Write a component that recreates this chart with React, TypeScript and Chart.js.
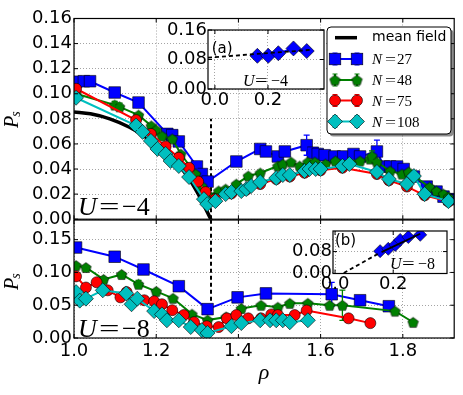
import React, { useEffect, useRef } from 'react';
import { Chart, registerables } from 'chart.js';
Chart.register(...registerables);

// ---------------- data ----------------
const xTicks = [1.0, 1.2, 1.4, 1.6, 1.8];
const topYTicks = [0, 0.02, 0.04, 0.06, 0.08, 0.1, 0.12, 0.14, 0.16];
const botYTicks = [0, 0.05, 0.1, 0.15];
const insetAXTicks = [0, 0.2];
const insetAYTicks = [0, 0.08, 0.16];
const insetBXTicks = [0, 0.2];
const insetBYTicks = [0, 0.08];

const rhoCritical = [4 / 3, 4 / 3];
const topCritPs = [0, 0.08];
const botCritPs = [0.057, 0.18];

const mfRho = [1.0, 1.04, 1.087, 1.135, 1.175, 1.207, 1.239, 1.272, 1.3, 1.333];
const mfPs = [0.0855, 0.084, 0.08, 0.0733, 0.0653, 0.0573, 0.048, 0.036, 0.0213, 0.0];

const topN27Rho = [1.005, 1.024, 1.039, 1.099, 1.157, 1.227, 1.239, 1.255, 1.299, 1.311, 1.325, 1.395, 1.453, 1.467, 1.496, 1.513, 1.566, 1.581, 1.593, 1.61, 1.634, 1.655, 1.68, 1.696, 1.737, 1.754, 1.769, 1.786, 1.802, 1.827, 1.858, 1.882, 1.899, 1.913];
const topN27Ps = [0.1096, 0.11, 0.11, 0.101, 0.093, 0.068, 0.067, 0.062, 0.042, 0.036, 0.03, 0.046, 0.056, 0.054, 0.05, 0.054, 0.059, 0.053, 0.052, 0.051, 0.05, 0.05, 0.052, 0.05, 0.054, 0.042, 0.042, 0.042, 0.04, 0.034, 0.026, 0.022, 0.018, 0.016];
const topN27ErrRho = [1.157, 1.299, 1.566, 1.737];
const topN27Err = [0.004, 0.004, 0.008, 0.009];

const topN48Rho = [1.005, 1.099, 1.111, 1.157, 1.188, 1.2, 1.214, 1.239, 1.26, 1.296, 1.311, 1.328, 1.352, 1.369, 1.395, 1.424, 1.453, 1.496, 1.508, 1.528, 1.549, 1.569, 1.586, 1.612, 1.636, 1.696, 1.72, 1.725, 1.737, 1.769, 1.798, 1.814, 1.865, 1.882, 1.899, 1.911];
const topN48Ps = [0.1, 0.091, 0.0896, 0.083, 0.0744, 0.0712, 0.0664, 0.064, 0.052, 0.036, 0.0264, 0.019, 0.0225, 0.024, 0.028, 0.0344, 0.0368, 0.0424, 0.044, 0.0456, 0.0424, 0.0456, 0.0456, 0.044, 0.0464, 0.0464, 0.048, 0.0504, 0.0456, 0.0384, 0.036, 0.0376, 0.0256, 0.0224, 0.02, 0.0176];
const topN48ErrRho = [1.099, 1.111, 1.725];
const topN48Err = [0.003, 0.003, 0.004];

const topN75Rho = [1.005, 1.151, 1.187, 1.223, 1.255, 1.28, 1.302, 1.32, 1.344, 1.383, 1.419, 1.453, 1.492, 1.525, 1.561, 1.6, 1.653, 1.737, 1.766, 1.81, 1.853, 1.911];
const topN75Ps = [0.104, 0.079, 0.068, 0.058, 0.049, 0.041, 0.03, 0.0216, 0.016, 0.0205, 0.0235, 0.028, 0.032, 0.034, 0.037, 0.039, 0.041, 0.036, 0.031, 0.026, 0.019, 0.014];

const topN108Rho = [1.005, 1.151, 1.167, 1.187, 1.203, 1.223, 1.235, 1.255, 1.28, 1.316, 1.324, 1.344, 1.369, 1.383, 1.407, 1.419, 1.431, 1.453, 1.492, 1.508, 1.525, 1.561, 1.573, 1.588, 1.6, 1.653, 1.67, 1.737, 1.766, 1.81, 1.827, 1.853, 1.911];
const topN108Ps = [0.0968, 0.0746, 0.0696, 0.0624, 0.056, 0.052, 0.0464, 0.0424, 0.0336, 0.016, 0.012, 0.0144, 0.02, 0.0216, 0.0224, 0.024, 0.0264, 0.0296, 0.0328, 0.0352, 0.0352, 0.0384, 0.04, 0.04, 0.04, 0.0424, 0.044, 0.0376, 0.032, 0.028, 0.0344, 0.02, 0.0144];
const topN108ErrRho = [1.151];
const topN108Err = [0.003];

const botN27Rho = [1.005, 1.099, 1.169, 1.255, 1.325, 1.398, 1.467, 1.627, 1.696, 1.766];
const botN27Ps = [0.138, 0.124, 0.1045, 0.079, 0.044, 0.062, 0.068, 0.0667, 0.0576, 0.0485];
const botN27ErrRho = [1.627];
const botN27Err = [0.018];

const botN48Rho = [1.005, 1.029, 1.072, 1.116, 1.157, 1.2, 1.241, 1.287, 1.325, 1.37, 1.407, 1.455, 1.496, 1.525, 1.569, 1.622, 1.653, 1.781, 1.825];
const botN48Ps = [0.1106, 0.1076, 0.0894, 0.097, 0.082, 0.0712, 0.0606, 0.0364, 0.0273, 0.032, 0.045, 0.05, 0.047, 0.053, 0.053, 0.05, 0.05, 0.041, 0.024];
const botN48ErrRho = [1.157, 1.653];
const botN48Err = [0.006, 0.023];

const botN75Rho = [1.005, 1.029, 1.055, 1.082, 1.113, 1.128, 1.171, 1.195, 1.214, 1.239, 1.267, 1.292, 1.323, 1.352, 1.372, 1.395, 1.424, 1.455, 1.48, 1.496, 1.537, 1.566, 1.668, 1.721];
const botN75Ps = [0.094, 0.077, 0.085, 0.0727, 0.062, 0.07, 0.0576, 0.056, 0.0515, 0.0424, 0.035, 0.0242, 0.018, 0.0167, 0.03, 0.035, 0.03, 0.03, 0.036, 0.035, 0.035, 0.042, 0.03, 0.0227];

const botN108Rho = [1.005, 1.014, 1.029, 1.07, 1.127, 1.14, 1.154, 1.195, 1.214, 1.226, 1.255, 1.284, 1.311, 1.325, 1.383, 1.407, 1.453, 1.477, 1.492, 1.508, 1.525, 1.569];
const botN108Ps = [0.07, 0.057, 0.06, 0.0727, 0.068, 0.0515, 0.06, 0.041, 0.036, 0.027, 0.027, 0.0167, 0.012, 0.0076, 0.018, 0.0227, 0.027, 0.027, 0.027, 0.027, 0.024, 0.027];

// inset (a): U = -4
const insetADashX = [-0.026, 0.36];
const insetADashY = [0.085, 0.106];
const insetADiaX = [0.16, 0.201, 0.239, 0.296, 0.346];
const insetADiaY = [0.09, 0.09, 0.097, 0.11, 0.103];

// inset (b): U = -8
const insetBDashX = [0.03, 0.155];
const insetBDashY = [0.002, 0.076];
const insetBFitX = [0.16, 0.293];
const insetBFitY = [0.078, 0.145];
const insetBDiaX = [0.155, 0.183, 0.207, 0.224, 0.252, 0.293];
const insetBDiaY = [0.0815, 0.09, 0.104, 0.1225, 0.133, 0.141];

const legendLabels = ['mean field', '27', '48', '75', '108'];

// ---------------- styling ----------------
const BLUE = '#0000ff';
const GREEN = '#008000';
const RED = '#ff0000';
const CYAN = '#00bfbf';
const SANS = "'DejaVu Sans', sans-serif";
const SERIF = "'Liberation Serif', serif";
const tickFont = { family: SANS, size: 18 };

function pts(xs: number[], ys: number[]) {
  return xs.map((x, i) => ({ x, y: ys[i] }));
}

function makePentagon(r: number, fill: string) {
  const size = Math.ceil(2 * r + 2);
  const c = document.createElement('canvas');
  c.width = size;
  c.height = size;
  const ctx = c.getContext('2d')!;
  ctx.beginPath();
  for (let i = 0; i < 5; i++) {
    const a = -Math.PI / 2 + (i * 2 * Math.PI) / 5;
    const px = size / 2 + r * Math.cos(a);
    const py = size / 2 + 0.6 + r * Math.sin(a);
    if (i === 0) ctx.moveTo(px, py);
    else ctx.lineTo(px, py);
  }
  ctx.closePath();
  ctx.fillStyle = fill;
  ctx.fill();
  ctx.strokeStyle = '#000';
  ctx.lineWidth = 0.6;
  ctx.stroke();
  return c;
}

function series(rho: number[], ps: number[], color: string, style: any, radius: number, order: number, errRho: number[] = [], errVal: number[] = []) {
  const errs = errRho.map((r, k) => {
    const i = rho.indexOf(r);
    return { x: r, y: ps[i], e: errVal[k] };
  });
  return {
    data: pts(rho, ps),
    borderColor: color,
    backgroundColor: color,
    borderWidth: 2,
    pointStyle: style,
    pointRadius: radius,
    pointBackgroundColor: color,
    pointBorderColor: '#000',
    pointBorderWidth: 0.6,
    tension: 0,
    order,
    errs,
  };
}

function lineSet(xs: number[], ys: number[], color: string, width: number, dash: number[], order: number, extra: any = {}) {
  return {
    data: pts(xs, ys),
    borderColor: color,
    backgroundColor: color,
    borderWidth: width,
    borderDash: dash,
    pointRadius: 0,
    tension: 0,
    order,
    ...extra,
  };
}

function scale(min: number, max: number, ticks: number[], showLabels: boolean, decimals: number, padding: number, fit: (s: any) => void) {
  return {
    type: 'linear',
    min,
    max,
    afterBuildTicks: (s: any) => {
      s.ticks = ticks.map((v) => ({ value: v }));
    },
    grid: { color: 'rgba(0,0,0,0.45)', lineWidth: 0.8, drawTicks: false },
    border: { display: false, dash: [1, 2] },
    ticks: {
      display: showLabels,
      autoSkip: false,
      maxRotation: 0,
      font: tickFont,
      color: '#000',
      padding,
      callback: (v: any) => Number(v).toFixed(decimals),
    },
    afterFit: fit,
  };
}

const framePlugin = {
  id: 'frame',
  afterDatasetsDraw(chart: any) {
    const { ctx, chartArea: a, scales } = chart;
    ctx.save();
    ctx.strokeStyle = '#000';
    ctx.lineWidth = 1;
    const L = 4;
    ctx.beginPath();
    scales.x.ticks.forEach((t: any) => {
      const px = scales.x.getPixelForValue(t.value);
      ctx.moveTo(px, a.top);
      ctx.lineTo(px, a.top + L);
      ctx.moveTo(px, a.bottom);
      ctx.lineTo(px, a.bottom - L);
    });
    scales.y.ticks.forEach((t: any) => {
      const py = scales.y.getPixelForValue(t.value);
      ctx.moveTo(a.left, py);
      ctx.lineTo(a.left + L, py);
      ctx.moveTo(a.right, py);
      ctx.lineTo(a.right - L, py);
    });
    ctx.stroke();
    ctx.lineWidth = 1.2;
    ctx.strokeRect(a.left, a.top, a.right - a.left, a.bottom - a.top);
    ctx.restore();
  },
};

const errorPlugin = {
  id: 'errbars',
  afterDatasetDraw(chart: any, args: any) {
    const ds = chart.data.datasets[args.index];
    if (!ds.errs || !ds.errs.length) return;
    const { ctx, scales } = chart;
    ctx.save();
    ctx.strokeStyle = ds.borderColor;
    ctx.lineWidth = 1.3;
    ctx.beginPath();
    ds.errs.forEach((e: any) => {
      const px = scales.x.getPixelForValue(e.x);
      const y1 = scales.y.getPixelForValue(e.y - e.e);
      const y2 = scales.y.getPixelForValue(e.y + e.e);
      ctx.moveTo(px, y1);
      ctx.lineTo(px, y2);
      ctx.moveTo(px - 3, y1);
      ctx.lineTo(px + 3, y1);
      ctx.moveTo(px - 3, y2);
      ctx.lineTo(px + 3, y2);
    });
    ctx.stroke();
    ctx.restore();
  },
};

const whiteBgPlugin = {
  id: 'whitebg',
  beforeDraw(chart: any) {
    const { ctx, chartArea: a } = chart;
    ctx.save();
    ctx.fillStyle = '#fff';
    ctx.fillRect(a.left, a.top, a.right - a.left, a.bottom - a.top);
    ctx.restore();
  },
};

function drawUeq(ctx: CanvasRenderingContext2D, x: number, base: number, size: number, num: string, eqDx: number, numDx: number) {
  ctx.save();
  ctx.fillStyle = '#000';
  ctx.textBaseline = 'alphabetic';
  ctx.textAlign = 'left';
  ctx.font = `italic ${size}px ${SERIF}`;
  ctx.fillText('U', x, base);
  ctx.font = `${size}px ${SERIF}`;
  ctx.save();
  ctx.translate(x + eqDx, base);
  ctx.scale(1.4, 1);
  ctx.fillText('=', 0, 0);
  ctx.restore();
  ctx.fillText('\u2212' + num, x + numDx, base);
  ctx.restore();
}

function drawPs(ctx: CanvasRenderingContext2D, x: number, y: number) {
  ctx.save();
  ctx.translate(x, y);
  ctx.rotate(-Math.PI / 2);
  ctx.fillStyle = '#000';
  ctx.textBaseline = 'alphabetic';
  ctx.textAlign = 'left';
  ctx.font = `italic 20px ${SERIF}`;
  ctx.fillText('P', 0, 0);
  const w = ctx.measureText('P').width;
  ctx.font = `italic 14px ${SERIF}`;
  ctx.fillText('s', w - 1, 2);
  ctx.restore();
}

function roundRect(ctx: CanvasRenderingContext2D, x: number, y: number, w: number, h: number, r: number) {
  ctx.beginPath();
  ctx.moveTo(x + r, y);
  ctx.lineTo(x + w - r, y);
  ctx.arcTo(x + w, y, x + w, y + r, r);
  ctx.lineTo(x + w, y + h - r);
  ctx.arcTo(x + w, y + h, x + w - r, y + h, r);
  ctx.lineTo(x + r, y + h);
  ctx.arcTo(x, y + h, x, y + h - r, r);
  ctx.lineTo(x, y + r);
  ctx.arcTo(x, y, x + r, y, r);
  ctx.closePath();
}

function drawLegend(ctx: CanvasRenderingContext2D, pent: HTMLCanvasElement) {
  const x = 327, y = 27, w = 124, h = 107;
  ctx.save();
  roundRect(ctx, x + 2.5, y + 2.5, w, h, 4);
  ctx.fillStyle = 'rgba(0,0,0,0.45)';
  ctx.fill();
  roundRect(ctx, x, y, w, h, 4);
  ctx.fillStyle = '#fff';
  ctx.fill();
  ctx.strokeStyle = '#000';
  ctx.lineWidth = 1;
  ctx.stroke();

  const ys = [37.7, 59, 80, 100.5, 121.5];
  const x1 = 335, x2 = 357, tx = 372;
  ctx.strokeStyle = '#000';
  ctx.lineWidth = 3.5;
  ctx.beginPath();
  ctx.moveTo(x1, ys[0]);
  ctx.lineTo(x2, ys[0]);
  ctx.stroke();
  ctx.fillStyle = '#000';
  ctx.font = `14px ${SANS}`;
  ctx.textBaseline = 'middle';
  ctx.fillText(legendLabels[0], tx, ys[0]);

  const colors = [BLUE, GREEN, RED, CYAN];
  for (let k = 0; k < 4; k++) {
    const yy = ys[k + 1];
    const c = colors[k];
    ctx.strokeStyle = c;
    ctx.lineWidth = 2;
    ctx.beginPath();
    ctx.moveTo(x1, yy);
    ctx.lineTo(x2, yy);
    [x1, x2].forEach((mx) => {
      ctx.moveTo(mx, yy - 6);
      ctx.lineTo(mx, yy + 6);
    });
    ctx.stroke();
    ctx.lineWidth = 1;
    ctx.beginPath();
    [x1, x2].forEach((mx) => {
      ctx.moveTo(mx - 2.5, yy - 6);
      ctx.lineTo(mx + 2.5, yy - 6);
      ctx.moveTo(mx - 2.5, yy + 6);
      ctx.lineTo(mx + 2.5, yy + 6);
    });
    ctx.stroke();
    [x1, x2].forEach((mx) => {
      ctx.fillStyle = c;
      ctx.strokeStyle = '#000';
      ctx.lineWidth = 0.6;
      if (k === 0) {
        ctx.fillRect(mx - 5.8, yy - 5.8, 11.6, 11.6);
        ctx.strokeRect(mx - 5.8, yy - 5.8, 11.6, 11.6);
      } else if (k === 1) {
        ctx.drawImage(pent, mx - pent.width / 2, yy - pent.height / 2);
      } else if (k === 2) {
        ctx.beginPath();
        ctx.arc(mx, yy, 5.5, 0, Math.PI * 2);
        ctx.fill();
        ctx.stroke();
      } else {
        ctx.beginPath();
        ctx.moveTo(mx - 7.5, yy);
        ctx.lineTo(mx, yy - 7.5);
        ctx.lineTo(mx + 7.5, yy);
        ctx.lineTo(mx, yy + 7.5);
        ctx.closePath();
        ctx.fill();
        ctx.stroke();
      }
    });
    ctx.fillStyle = '#000';
    ctx.textBaseline = 'alphabetic';
    ctx.font = `italic 15px ${SERIF}`;
    ctx.fillText('N', tx, yy + 5);
    ctx.font = `15px ${SERIF}`;
    ctx.save();
    ctx.translate(tx + 13, yy + 5);
    ctx.scale(1.3, 1);
    ctx.fillText('=', 0, 0);
    ctx.restore();
    ctx.fillText(legendLabels[k + 1], tx + 25, yy + 5);
  }
  ctx.restore();
}

const baseOptions = {
  responsive: false,
  animation: false,
  devicePixelRatio: 1,
  events: [],
  plugins: { legend: { display: false }, tooltip: { enabled: false } },
};

export default function App() {
  const topRef = useRef<HTMLCanvasElement>(null);
  const botRef = useRef<HTMLCanvasElement>(null);
  const aRef = useRef<HTMLCanvasElement>(null);
  const bRef = useRef<HTMLCanvasElement>(null);

  useEffect(() => {
    const pent = makePentagon(5.5, GREEN);

    const topChart = new Chart(topRef.current!, {
      type: 'line',
      data: {
        datasets: [
          lineSet(rhoCritical, topCritPs, '#000', 2, [4, 3], 6),
          lineSet(mfRho, mfPs, '#000', 3.5, [], 5, { cubicInterpolationMode: 'monotone' }),
          series(topN27Rho, topN27Ps, BLUE, 'rect', 8.2, 4, topN27ErrRho, topN27Err),
          series(topN48Rho, topN48Ps, GREEN, pent, 5.5, 3, topN48ErrRho, topN48Err),
          series(topN75Rho, topN75Ps, RED, 'circle', 5.5, 2),
          series(topN108Rho, topN108Ps, CYAN, 'rectRot', 7.5, 1, topN108ErrRho, topN108Err),
        ] as any,
      },
      options: {
        ...baseOptions,
        layout: { padding: { left: 0, right: 5, top: 18.5, bottom: 0 } },
        scales: {
          x: scale(1.0, 1.925, xTicks, false, 1, 3, (s: any) => { s.height = 12; }),
          y: scale(0, 0.16, topYTicks, true, 2, 2, (s: any) => { s.width = 74; }),
        } as any,
      } as any,
      plugins: [
        errorPlugin,
        framePlugin,
        {
          id: 'topText',
          afterDraw(chart: any) {
            const ctx = chart.ctx;
            drawPs(ctx, 18, 128);
            drawUeq(ctx, 78, 215, 26, '4', 21, 44);
            drawLegend(ctx, pent);
          },
        },
      ],
    });

    const botChart = new Chart(botRef.current!, {
      type: 'line',
      data: {
        datasets: [
          lineSet(rhoCritical, botCritPs, '#000', 2, [4, 3], 6),
          series(botN27Rho, botN27Ps, BLUE, 'rect', 8.2, 4, botN27ErrRho, botN27Err),
          series(botN48Rho, botN48Ps, GREEN, pent, 5.5, 3, botN48ErrRho, botN48Err),
          series(botN75Rho, botN75Ps, RED, 'circle', 5.5, 2),
          series(botN108Rho, botN108Ps, CYAN, 'rectRot', 7.5, 1),
        ] as any,
      },
      options: {
        ...baseOptions,
        layout: { padding: { left: 0, right: 5, top: 15, bottom: 0 } },
        scales: {
          x: scale(1.0, 1.925, xTicks, true, 1, 3, (s: any) => { s.height = 57; }),
          y: scale(0, 0.18, botYTicks, true, 2, 2, (s: any) => { s.width = 74; }),
        } as any,
      } as any,
      plugins: [
        errorPlugin,
        framePlugin,
        {
          id: 'botText',
          afterDraw(chart: any) {
            const ctx = chart.ctx;
            drawPs(ctx, 18, 85);
            drawUeq(ctx, 78, 131.7, 26, '8', 21, 44);
            ctx.save();
            ctx.fillStyle = '#000';
            ctx.font = `italic 22px ${SERIF}`;
            ctx.textAlign = 'center';
            ctx.textBaseline = 'alphabetic';
            ctx.fillText('\u03c1', 264, 174);
            ctx.restore();
          },
        },
      ],
    });

    const aChart = new Chart(aRef.current!, {
      type: 'line',
      data: {
        datasets: [
          lineSet(insetADashX, insetADashY, '#000', 1.8, [4, 3], 0),
          series(insetADiaX, insetADiaY, BLUE, 'rectRot', 7.5, 1),
        ] as any,
      },
      options: {
        ...baseOptions,
        layout: { padding: { left: 0, right: 11, top: 20, bottom: 0 } },
        scales: {
          x: scale(-0.026, 0.411, insetAXTicks, true, 1, 1, (s: any) => { s.height = 26; }),
          y: scale(0, 0.16, insetAYTicks, true, 2, 1, (s: any) => { s.width = 58; }),
        } as any,
      } as any,
      plugins: [
        whiteBgPlugin,
        framePlugin,
        {
          id: 'aText',
          afterDraw(chart: any) {
            const ctx = chart.ctx;
            ctx.save();
            ctx.fillStyle = '#000';
            ctx.font = `15px ${SANS}`;
            ctx.textBaseline = 'alphabetic';
            ctx.fillText('(a)', 61.7, 43);
            ctx.restore();
            drawUeq(ctx, 93, 75.7, 16, '4', 12, 28);
          },
        },
      ],
    });

    const bChart = new Chart(bRef.current!, {
      type: 'line',
      data: {
        datasets: [
          lineSet(insetBFitX, insetBFitY, '#000', 1.8, [], 0),
          lineSet(insetBDashX, insetBDashY, '#000', 1.8, [4, 3], 0),
          series(insetBDiaX, insetBDiaY, BLUE, 'rectRot', 6.5, 1),
        ] as any,
      },
      options: {
        ...baseOptions,
        layout: { padding: { left: 0, right: 13, top: 18, bottom: 0 } },
        scales: {
          x: scale(-0.007, 0.385, insetBXTicks, true, 1, 0, (s: any) => { s.height = 21.5; }),
          y: scale(0, 0.155, insetBYTicks, true, 2, 1, (s: any) => { s.width = 63; }),
        } as any,
      } as any,
      plugins: [
        whiteBgPlugin,
        framePlugin,
        {
          id: 'bText',
          afterDraw(chart: any) {
            const ctx = chart.ctx;
            ctx.save();
            ctx.fillStyle = '#000';
            ctx.font = `15px ${SANS}`;
            ctx.textBaseline = 'alphabetic';
            ctx.fillText('(b)', 65, 32);
            ctx.restore();
            drawUeq(ctx, 120, 56.3, 16, '8', 12, 28);
          },
        },
      ],
    });

    return () => {
      topChart.destroy();
      botChart.destroy();
      aChart.destroy();
      bChart.destroy();
    };
  }, []);

  const abs = (left: number, top: number): React.CSSProperties => ({ position: 'absolute', left, top });
  return (
    <div style={{ position: 'fixed', left: 0, top: 0, width: 463, height: 395, background: '#fff', overflow: 'hidden' }}>
      <canvas ref={topRef} width={463} height={232} style={abs(0, 0)} />
      <canvas ref={botRef} width={463} height={190} style={abs(0, 205)} />
      <canvas ref={aRef} width={185} height={105} style={abs(150, 10)} />
      <canvas ref={bRef} width={190} height={82} style={abs(270, 213)} />
    </div>
  );
}
